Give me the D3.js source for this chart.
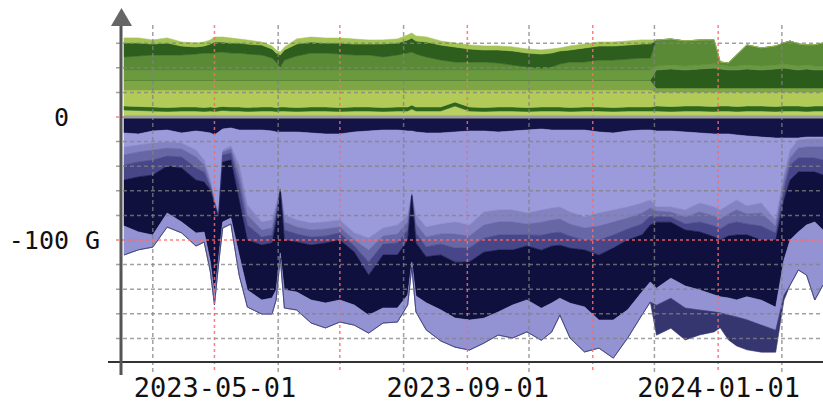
<!DOCTYPE html>
<html>
<head>
<meta charset="utf-8">
<script src="https://cdn.jsdelivr.net/npm/d3@7"></script>
<style>
  body { margin: 0; background: #fff; }
  svg { display: block; }
  text { font-family: 'DejaVu Sans Mono', monospace; fill: #111; }
</style>
</head>
<body>
<svg id="chart" width="823" height="402"></svg>
<script>
// sample dates
const dates = [
  '2023-03-18','2023-03-25','2023-04-01','2023-04-08','2023-04-15','2023-04-22','2023-04-26','2023-04-29','2023-05-01','2023-05-03',
  '2023-05-05','2023-05-09','2023-05-13','2023-05-17','2023-05-24','2023-05-29','2023-05-31','2023-06-02','2023-06-04','2023-06-10',
  '2023-06-17','2023-06-24','2023-07-01','2023-07-08','2023-07-15','2023-07-22','2023-07-29','2023-08-03','2023-08-05','2023-08-07',
  '2023-08-12','2023-08-19','2023-08-26','2023-09-02','2023-09-09','2023-09-16','2023-09-23','2023-09-30','2023-10-07','2023-10-12',
  '2023-10-16','2023-10-21','2023-10-28','2023-11-04','2023-11-11','2023-11-18','2023-11-25','2023-11-29','2023-12-02','2023-12-09',
  '2023-12-16','2023-12-23','2023-12-30','2024-01-02','2024-01-06','2024-01-10','2024-01-15','2024-01-22','2024-01-29','2024-02-02',
  '2024-02-05','2024-02-09','2024-02-13','2024-02-17','2024-02-21'
];

// inbound series (G), stacked upward from zero, bottom first
const inBase = [
  5.7,5.3,4.9,4.5,4.9,4.9,4.5,4.9,4.5,4.9, 5.3,4.9,4.9,4.5,4.9,4.9,4.5,4.9,4.9,4.5,
  4.9,4.9,4.5,4.9,4.9,4.5,4.9,4.9,6.5,4.9, 4.9,4.9,8.9,4.9,4.5,4.9,4.9,4.5,4.9,4.9,
  4.9,4.5,4.9,4.9,4.5,4.9,4.9,4.9,4.9,4.5, 4.9,4.9,4.5,4.9,4.9,4.5,4.9,4.9,4.5,4.9,
  4.9,4.9,4.5,4.9,4.9
];
const inLine = [
  3.3,3.3,3.3,3.3,3.3,3.3,3.3,3.3,3.3,3.3, 3.3,3.3,3.3,3.3,3.3,3.3,3.3,3.3,3.3,3.3,
  3.3,3.3,3.3,3.3,3.3,3.3,3.3,3.3,3.3,3.3, 3.3,3.3,3.3,3.3,3.3,3.3,3.3,3.3,3.3,3.3,
  3.3,3.3,3.3,3.3,3.3,3.3,3.3,3.3,4.1,4.1, 4.1,4.1,4.1,4.1,4.1,4.1,4.1,4.1,4.1,4.1,
  4.1,4.1,4.1,4.1,4.1
];
const inLight = [
  13.0,13.4,13.8,14.2,13.8,13.8,14.2,13.8,14.2,13.8, 13.4,13.8,13.8,14.2,13.8,13.8,14.2,13.8,13.8,14.2,
  13.8,13.8,14.2,13.8,13.8,14.2,13.8,13.8,12.2,13.8, 13.8,13.8,9.8,13.8,14.2,13.8,13.8,14.2,13.8,13.8,
  13.8,14.2,13.8,13.8,14.2,13.8,13.8,13.8,11.3,11.7, 11.3,11.3,11.7,11.3,11.3,11.7,11.3,11.3,11.7,11.3,
  11.3,11.3,11.7,11.3,11.3
];
const inOlive = [
  8.1,8.1,8.1,8.1,8.1,8.1,8.1,8.1,8.1,8.1, 8.1,8.1,8.1,8.1,8.1,8.1,8.1,8.1,8.1,8.1,
  8.1,8.1,8.1,8.1,8.1,8.1,8.1,8.1,8.1,8.1, 8.1,8.1,8.1,8.1,8.1,8.1,8.1,8.1,8.1,8.1,
  8.1,8.1,8.1,8.1,8.1,8.1,8.1,8.1,3.3,3.3, 3.3,3.3,3.3,3.3,3.3,3.3,3.3,3.3,3.3,3.3,
  3.3,3.3,3.3,3.3,3.3
];
const inDarkNew = [
  0,0,0,0,0,0,0,0,0,0, 0,0,0,0,0,0,0,0,0,0,
  0,0,0,0,0,0,0,0,0,0, 0,0,0,0,0,0,0,0,0,0,
  0,0,0,0,0,0,0,0,14.6,15.4, 14.6,15.4,16.3,15.4,14.6,14.6,15.4,14.6,15.4,16.3,
  15.4,14.6,15.4,14.6,14.6
];
const inMidLight = [
  8.1,8.1,8.1,8.1,8.1,8.1,8.1,8.1,8.1,8.1, 8.1,8.1,8.1,8.1,8.1,8.1,8.1,8.1,8.1,8.1,
  8.1,8.1,8.1,8.1,8.1,8.1,8.1,8.1,8.1,8.1, 8.1,8.1,8.1,8.1,8.1,8.1,8.1,8.1,8.1,8.1,
  8.1,8.1,8.1,8.1,8.1,8.1,8.1,8.1,3.3,3.3, 3.3,3.3,3.3,3.3,3.3,3.3,3.3,3.3,3.3,3.3,
  3.3,3.3,3.3,3.3,3.3
];
const inMid = [
  10.6,11.4,12.2,12.2,12.2,13,13.8,13.8,13.8,14.6, 14.6,13.8,13.8,13,12.2,9.8,6.5,2.4,8.1,11.4,
  13.8,13.8,13,12.2,12.2,10.6,12.2,13.8,14.6,13, 10.6,8.1,6.5,6.5,6.5,5.7,4.1,2.4,1.6,2.4,
  4.9,6.5,6.5,8.1,8.1,8.9,9.8,9.8,21.1,21.1, 20.3,20.3,19.5,2.4,2.4,8.9,16.3,14.6,15.4,17.1,
  19.5,17.9,16.3,17.1,18.7
];
const inDark = [
  11.4,10.6,8.9,9.8,7.3,5.7,5.7,7.3,8.9,8.1, 8.1,8.1,8.1,8.1,8.1,7.3,7.3,9.8,8.1,9.8,
  8.9,8.1,8.9,8.9,8.9,10.6,9.8,10.6,11.4,10.6, 12.2,12.2,12.2,10.6,9.8,10.6,11.4,11.4,11.4,11.4,
  10.6,9.8,11.4,11.4,11.4,11.4,11.4,11.4,0,0, 0,0,0,0,0,0,0,0,0,0,
  0,0,0,0,0
];
const inTop = [
  4.1,4.1,3.3,4.1,3.3,3.3,3.3,3.3,4.1,4.1, 4.1,4.1,3.3,3.3,2.4,2.4,2.4,2.4,2.4,4.1,
  4.1,4.1,4.1,4.1,3.3,3.3,3.3,4.1,4.1,4.1, 4.1,3.3,3.3,3.3,3.3,3.3,3.3,3.3,3.3,3.3,
  2.4,3.3,3.3,3.3,3.3,3.3,3.3,3.3,0,0, 0,0,0,0,0,0,0,0,0,0,
  0,0,0,0,0
];

// outbound series (G, magnitudes), stacked downward from zero, top first
const outTop = [
  13,13.8,11.4,10.6,13,11.4,12.2,13,14.6,12.2, 9.8,8.9,10.6,10.6,10.6,11.4,12.2,12.2,12.2,12.2,
  13,13.8,13.8,12.2,11.4,10.6,10.6,11.4,11.4,12.2, 13,13,12.2,11.4,11.4,12.2,11.4,10.6,9.8,10.6,
  10.6,10.6,10.6,12.2,13,11.4,10.6,10.6,11.4,11.4, 12.2,13,13.8,13.8,13.8,14.6,15.4,16.3,17.1,17.1,
  17.1,17.1,16.3,16.3,16.3
];
const outMain = [
  11.4,8.9,9.8,9.8,8.1,15.4,22.8,38.2,52.8,67.5, 17.1,14.6,28.5,61,74.8,72.4,59.3,45.5,67.5,71.5,
  73.2,71.5,69.9,82.1,87,79.7,77.2,68.3,50.4,67.5, 76.4,74,73.2,76.4,65.9,63.4,64.2,67.5,65.9,63.4,
  62.6,66.7,70.7,65.9,62.6,61.8,59.3,56.9,61.8,61.8, 63.4,56.9,59.3,61.8,57.7,52.8,56.9,53.7,66.7,30.1,
  9.8,1.6,1.6,1.6,1.6
];
const outSlateA = [
  6.5,5.7,5.7,4.9,4.9,5.7,4.1,3.3,1.6,0.8, 1.6,2.4,8.1,8.1,6.5,6.5,4.1,0.8,5.7,5.7,
  5.7,5.7,5.7,5.7,9.8,6.5,7.3,5.7,0.8,7.3, 8.1,8.1,9.8,8.9,10.6,9.8,9.8,8.9,9.8,9.8,
  9.8,9.8,8.9,10.6,9.8,8.9,8.1,6.5,3.3,4.1, 5.7,7.3,7.3,7.3,7.3,8.1,6.5,8.1,4.9,5.7,
  6.5,6.5,6.5,6.5,6.5
];
const outSlateB = [
  8.1,8.1,8.1,6.5,6.5,8.9,5.7,2.4,0.8,0.8, 2.4,3.3,8.1,8.1,5.7,5.7,4.1,0.8,6.5,5.7,
  5.7,5.7,4.9,4.9,9.8,6.5,7.3,6.5,0.8,7.3, 8.1,8.1,11.4,9.8,10.6,10.6,10.6,8.9,10.6,10.6,
  10.6,9.8,9.8,11.4,10.6,8.9,8.9,6.5,4.1,4.1, 5.7,8.1,8.1,8.1,8.1,9.8,8.1,10.6,5.7,6.5,
  5.7,8.1,8.9,8.9,10.6
];
const outSlateC = [
  12.2,12.2,12.2,8.1,8.9,9.8,8.1,2.4,1.6,0.8, 5.7,5.7,12.2,12.2,6.5,6.5,5.7,0.8,8.1,6.5,
  6.5,5.7,5.7,4.9,10.6,8.9,9.8,8.1,0.8,8.1, 8.1,8.9,11.4,11.4,11.4,12.2,12.2,8.9,12.2,10.6,
  10.6,9.8,8.1,12.2,10.6,8.9,8.9,7.3,4.9,4.1, 4.9,8.1,8.9,8.9,9.8,10.6,8.9,11.4,5.7,8.1,
  12.2,11.4,11.4,11.4,12.2
];
const outNavy = [
  37.4,44.7,48.8,38.2,43.9,43.1,40.7,58.5,73.2,32.5, 48.8,47.2,44.7,40.7,44.7,44.7,55.3,50.4,40.7,40.7,
  44.7,48.8,48.8,43.1,32.5,43.1,43.1,44.7,53.7,43.1, 37.4,44.7,45.5,47.2,53.7,50.4,44.7,43.9,47.2,46.3,
  43.1,44.7,46.3,52.8,58.5,56.9,46.3,46.3,53.7,45.5, 45.5,47.2,47.2,46.3,50.4,52.8,50.4,48.8,54.5,48.8,
  48.8,48.8,43.1,40.7,44.7
];
const outLower = [
  23.6,14.6,9.8,11.4,8.9,10.6,8.1,8.1,8.1,4.9, 4.9,4.9,16.3,13.8,11.4,13,8.1,4.1,14.6,14.6,
  18.7,20.3,17.9,16.3,14.6,12.2,11.4,8.1,4.1,13, 22,25.2,23.6,24.4,20.3,18.7,26.8,26,26,23.6,
  13.8,28.5,36.6,22.8,30.9,22.8,18.7,16.3,13.8,16.3, 17.9,16.3,13.8,13,13.8,13.8,18.7,20.3,18.7,28.5,
  36.6,30.9,40.7,63.4,44.7
];
const outBottom = [
  0,0,0,0,0,0,0,0,0,0, 0,0,0,0,0,0,0,0,0,0,
  0,0,0,0,0,0,0,0,0,0, 0,0,0,0,0,0,0,0,0,0,
  0,0,0,0,0,0,0,0,24.4,24.4, 26,20.3,16.3,12.2,20.3,23.6,24.4,22,17.9,4.1,
  0,0,0,0,0
];

const inSeries = [
  { key: 'inBase', values: inBase, color: '#b9d163' },
  { key: 'inLine', values: inLine, color: '#2f661e' },
  { key: 'inLight', values: inLight, color: '#b2cb58' },
  { key: 'inOlive', values: inOlive, color: '#7ea646' },
  { key: 'inDarkNew', values: inDarkNew, color: '#2b5c1b' },
  { key: 'inMidLight', values: inMidLight, color: '#6a9a3e' },
  { key: 'inMid', values: inMid, color: '#5a8a36' },
  { key: 'inDark', values: inDark, color: '#2d5e1e' },
  { key: 'inTop', values: inTop, color: '#a4c454' }
];
const outSeries = [
  { key: 'outTop', values: outTop, color: '#131345' },
  { key: 'outMain', values: outMain, color: '#9b9bdb' },
  { key: 'outSlateA', values: outSlateA, color: '#8383c4' },
  { key: 'outSlateB', values: outSlateB, color: '#6767a6' },
  { key: 'outSlateC', values: outSlateC, color: '#464688' },
  { key: 'outNavy', values: outNavy, color: '#10103f' },
  { key: 'outLower', values: outLower, color: '#9393d3' },
  { key: 'outBottom', values: outBottom, color: '#35356f' }
];

const parse = d3.utcParse('%Y-%m-%d');
const rows = dates.map((s, i) => {
  const r = { date: parse(s) };
  inSeries.forEach(s => r[s.key] = s.values[i]);
  outSeries.forEach(s => r[s.key] = -s.values[i]);   // outbound goes below zero
  return r;
});

const svg = d3.select('#chart');
const plotLeft = 124, plotRight = 823;

const x = d3.scaleUtc()
  .domain([parse('2023-03-18'), parse('2024-02-21')])
  .range([plotLeft, plotRight]);
const y = d3.scaleLinear()
  .domain([0, -100])
  .range([117, 240]);

const inStack = d3.stack().keys(inSeries.map(s => s.key))(rows);
const outStack = d3.stack().keys(outSeries.map(s => s.key))(rows);

const area = d3.area()
  .x(d => x(d.data.date))
  .y0(d => y(d[0]))
  .y1(d => y(d[1]));

const layers = svg.append('g');
[[inStack, inSeries], [outStack, outSeries]].forEach(([stack, defs]) => {
  stack.forEach((layer, i) => {
    layers.append('path')
      .attr('d', area(layer))
      .attr('fill', defs[i].color)
      .attr('stroke', defs[i].color)
      .attr('stroke-width', 0.6);
  });
});

// grid
const grid = svg.append('g');
const minorGrey = 'rgba(130,130,130,0.75)';
const majorRed = 'rgba(255,105,105,0.85)';

d3.range(-180, 61, 20).forEach(v => {
  const major = v === 0 || v === -100;
  grid.append('line')
    .attr('x1', 116).attr('x2', plotRight)
    .attr('y1', y(v)).attr('y2', y(v))
    .attr('stroke', major ? majorRed : minorGrey)
    .attr('stroke-width', 1.5)
    .attr('stroke-dasharray', major ? '3,3' : '4,3');
});

const months = d3.utcMonth.range(parse('2023-04-01'), parse('2024-02-22'));
months.forEach(m => {
  const major = m.getUTCMonth() % 2 === 0;
  grid.append('line')
    .attr('x1', x(m)).attr('x2', x(m))
    .attr('y1', 25).attr('y2', 373)
    .attr('stroke', major ? majorRed : minorGrey)
    .attr('stroke-width', 1.5)
    .attr('stroke-dasharray', major ? '3,3' : '4,3');
});

// zero line
svg.append('line')
  .attr('x1', plotLeft).attr('x2', plotRight)
  .attr('y1', y(0)).attr('y2', y(0))
  .attr('stroke', '#9a9a9a')
  .attr('stroke-width', 3);

// axes
svg.append('line')
  .attr('x1', 108).attr('x2', plotRight)
  .attr('y1', 362).attr('y2', 362)
  .attr('stroke', '#333')
  .attr('stroke-width', 2);
svg.append('line')
  .attr('x1', 121).attr('x2', 121)
  .attr('y1', 22).attr('y2', 375)
  .attr('stroke', '#555')
  .attr('stroke-width', 3);
svg.append('path')
  .attr('d', 'M111,26 L132,26 L121.5,8 Z')
  .attr('fill', '#666');

// y labels: number and unit in separate columns like rrdtool
[{ v: 0, unit: '' }, { v: -100, unit: 'G' }].forEach(t => {
  svg.append('text')
    .attr('x', 69).attr('y', y(t.v) + 8.5)
    .attr('text-anchor', 'end')
    .style('font-size', '25px')
    .text(t.v);
  if (t.unit) {
    svg.append('text')
      .attr('x', 85).attr('y', y(t.v) + 8.5)
      .style('font-size', '25px')
      .text(t.unit);
  }
});

// x labels
const labelDates = months.filter(m => m.getUTCMonth() % 4 === 0);
const xAxis = svg.append('g')
  .attr('transform', 'translate(0,362)')
  .call(d3.axisBottom(x).tickValues(labelDates).tickSize(0).tickPadding(0)
    .tickFormat(d3.utcFormat('%Y-%m-%d')));
xAxis.select('.domain').remove();
xAxis.selectAll('text')
  .attr('y', 35)
  .attr('dy', 0)
  .style('font-family', "'DejaVu Sans Mono', monospace")
  .style('font-size', '27px')
  .style('fill', '#111');
</script>
</body>
</html>
